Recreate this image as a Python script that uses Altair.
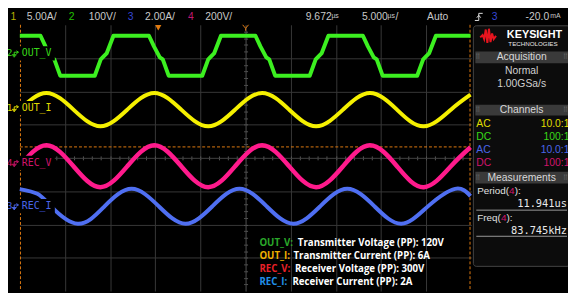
import altair as alt
import pandas as pd

# ---------------- values read from the screen ----------------
# time in microseconds (0 = screen centre), vertical position in screen divisions
out_v_t = [-25.0, -22.71, -22.16, -21.51, -21.18, -20.53, -16.70, -16.04, -15.72, -15.39, -14.63,
           -10.70, -10.15, -9.50, -9.17, -8.52, -4.80, -4.14, -3.82, -3.49, -2.73,
           1.09, 1.64, 2.29, 2.62, 3.27, 7.10, 7.76, 8.08, 8.41, 9.17,
           12.99, 13.54, 14.19, 14.52, 15.17, 19.00, 19.66, 19.98, 20.31, 21.07, 24.9]
out_v_div = [3.67, 3.67, 3.35, 3.02, 2.96, 2.47, 2.47, 2.96, 3.05, 3.14, 3.67,
             3.67, 3.35, 3.02, 2.96, 2.47, 2.47, 2.96, 3.05, 3.14, 3.67,
             3.67, 3.35, 3.02, 2.96, 2.47, 2.47, 2.96, 3.05, 3.14, 3.67,
             3.67, 3.35, 3.02, 2.96, 2.47, 2.47, 2.96, 3.05, 3.14, 3.67, 3.67]

sine_t = [-25.0, -22.05, -19.06, -16.08, -13.10, -10.11, -7.13, -4.14, -1.16,
          1.83, 4.82, 7.80, 10.79, 13.77, 16.76, 19.74, 22.73, 24.9]
out_i_div = [1.46, 1.95, 1.45, 0.95, 1.45, 1.95, 1.45, 0.95, 1.45,
             1.95, 1.45, 0.95, 1.45, 1.95, 1.45, 0.95, 1.45, 1.90]
rec_v_div = [-0.24, 0.38, -0.25, -0.88, -0.25, 0.38, -0.25, -0.88, -0.25,
             0.38, -0.25, -0.88, -0.25, 0.38, -0.25, -0.88, -0.25, 0.32]

rec_i_t = [-25.0, -23.06, -21.57, -18.59, -15.60, -12.62, -9.63, -6.65, -3.66, -0.68,
           2.31, 5.29, 8.28, 11.26, 14.25, 17.23, 20.22, 23.20, 24.9]
rec_i_div = [-0.94, -1.08, -1.45, -1.98, -1.45, -0.93, -1.45, -1.98, -1.45, -0.93,
             -1.45, -1.98, -1.45, -0.93, -1.45, -1.98, -1.45, -0.93, -1.15]

channel_names = ["OUT_I", "OUT_V", "REC_I", "REC_V"]
channel_nums = ["1", "2", "3", "4"]
channel_offsets = [1.50, 3.14, -1.45, -0.15]      # ground markers (div)
channel_scales = ["5.00A/", "100V/", "2.00A/", "200V/"]
channel_coupling = ["AC", "DC", "AC", "DC"]
channel_probe = ["10.0:1", "100:1", "10.0:1", "100:1"]
trigger_time = [-9.672]
trigger_level = [0.33]
cursor_t = [-24.93, 24.85]

legend_keys = ["OUT_V:", "OUT_I:", "REC_V:", "REC_I:"]
legend_desc = ["Transmitter Voltage (PP): 120V", "Transmitter Current (PP): 6A",
               "Receiver Voltage (PP): 300V", "Receiver Current (PP): 2A"]

# ---------------- styles ----------------
C_TRACE = {"OUT_I": "#f5f000", "OUT_V": "#3cf020", "REC_I": "#4f6ff2", "REC_V": "#ff1a8c"}
C_LABEL = {"OUT_I": "#e0dc00", "OUT_V": "#38d818", "REC_I": "#4a66e8", "REC_V": "#d0146c"}
C_NUM = {"1": "#b4b000", "2": "#20c000", "3": "#3446d6", "4": "#c01870"}
LEG_COL = ["#2aa82a", "#f0b000", "#e82028", "#2090e8"]
ORANGE = "#e07a10"
GRID = "#383838"
TXT = "#c8c8c8"

xs = alt.Scale(domain=[-25, 25], nice=False, zero=False)
ys = alt.Scale(domain=[-4, 4], nice=False, zero=False)

one = pd.DataFrame({"k": [0]})


def text(s, x, y, color=TXT, size=10.5, font="Liberation Sans", align="left", weight="normal"):
    return alt.Chart(one).mark_text(text=s, color=color, fontSize=size, font=font, align=align,
                                    baseline="middle", fontWeight=weight).encode(
        x=alt.value(x), y=alt.value(y))


def rect(x1, x2, y1, y2, fill, stroke=None, r=0):
    kw = dict(fill=fill, cornerRadius=r)
    if stroke:
        kw["stroke"] = stroke
        kw["strokeWidth"] = 1
    return alt.Chart(one).mark_rect(**kw).encode(
        x=alt.value(x1), x2=alt.value(x2), y=alt.value(y1), y2=alt.value(y2))


def hrule(x1, x2, y, color, w=1):
    return alt.Chart(one).mark_rule(color=color, strokeWidth=w).encode(
        x=alt.value(x1), x2=alt.value(x2), y=alt.value(y))


noax = None
grid_x = alt.Axis(orient="bottom", values=[-20, -15, -10, -5, 0, 5, 10, 15, 20], grid=True,
                  gridColor=GRID, labels=False, ticks=False, domain=False, title=None)
grid_y = alt.Axis(orient="left", values=[-3, -2, -1, 0, 1, 2, 3], grid=True,
                  gridColor=GRID, labels=False, ticks=False, domain=False, title=None)
minor_x = list(range(-24, 25))
minor_y = [v / 5 for v in range(-19, 20)]
cx_b = alt.Axis(orient="bottom", offset=-135, values=minor_x, grid=False, labels=False,
                ticks=True, tickSize=2, tickColor="#555555", domain=True, domainColor=GRID, title=None)
cx_t = alt.Axis(orient="top", offset=-135, values=minor_x, grid=False, labels=False,
                ticks=True, tickSize=2, tickColor="#555555", domain=False, title=None)
cy_l = alt.Axis(orient="left", offset=-229, values=minor_y, grid=False, labels=False,
                ticks=True, tickSize=2, tickColor="#555555", domain=True, domainColor=GRID, title=None)
cy_r = alt.Axis(orient="right", offset=-229, values=minor_y, grid=False, labels=False,
                ticks=True, tickSize=2, tickColor="#555555", domain=False, title=None)


def trace(t, v, name, xa, ya, interp, w):
    df = pd.DataFrame({"t": t, "v": v})
    return alt.Chart(df).mark_line(color=C_TRACE[name], strokeWidth=w, interpolate=interp,
                                   strokeJoin="round").encode(
        x=alt.X("t:Q", scale=xs, axis=xa), y=alt.Y("v:Q", scale=ys, axis=ya))


layers = []
# orange cursors / trigger level
cur = pd.DataFrame({"t": cursor_t})
layers.append(alt.Chart(cur).mark_rule(color=ORANGE, strokeDash=[3, 2], strokeWidth=1).encode(
    x=alt.X("t:Q", scale=xs, axis=noax), y=alt.value(0), y2=alt.value(270)))
lvl = pd.DataFrame({"v": trigger_level})
layers.append(alt.Chart(lvl).mark_rule(color=ORANGE, strokeDash=[3, 2], strokeWidth=1).encode(
    y=alt.Y("v:Q", scale=ys, axis=noax), x=alt.value(0), x2=alt.value(457)))

layers.append(trace(out_v_t, out_v_div, "OUT_V", grid_x, grid_y, "linear", 4))
layers.append(trace(sine_t, out_i_div, "OUT_I", cx_b, cy_l, "natural", 4))
layers.append(trace(sine_t, rec_v_div, "REC_V", cx_t, cy_r, "natural", 4.5))
layers.append(trace(rec_i_t, rec_i_div, "REC_I", noax, noax, "natural", 4))

# channel ground labels
lab = pd.DataFrame({"name": channel_names, "num": channel_nums, "off": channel_offsets})
layers.append(alt.Chart(lab).mark_point(shape="M-1,-0.3L1,-0.3L1,0.3L-1,0.3Z", size=2304,
                                        filled=True, fill="black", opacity=1, strokeWidth=0).encode(
    x=alt.value(11.5), y=alt.Y("off:Q", scale=ys, axis=noax)))
ground = ("M-0.3,-0.3L0.6,-0.3M0.25,-0.65L0.8,-0.3L0.25,0.05M-0.3,-0.3L-0.3,0.35"
          "M-0.9,0.35L0.3,0.35M-0.7,0.6L0.1,0.6M-0.5,0.85L-0.1,0.85")
for name, num in zip(channel_names, channel_nums):
    sub = lab[lab.name == name]
    col = C_LABEL[name]
    layers.append(alt.Chart(sub).mark_text(color=col, fontSize=10, font="DejaVu Sans Mono",
                                           align="left", baseline="middle").encode(
        x=alt.value(2), y=alt.Y("off:Q", scale=ys, axis=noax), text="name:N"))
    layers.append(alt.Chart(sub).mark_text(color=col, fontSize=9.5, font="DejaVu Sans Mono",
                                           align="center", baseline="middle").encode(
        x=alt.value(-10.5), y=alt.Y("off:Q", scale=ys, axis=noax), text="num:N"))
    layers.append(alt.Chart(sub).mark_point(shape=ground, size=64, color=col, strokeWidth=1,
                                            filled=False, opacity=1).encode(
        x=alt.value(-4.5), y=alt.Y("off:Q", scale=ys, axis=noax)))

# trigger markers on top edge
trg = pd.DataFrame({"t": trigger_time})
layers.append(alt.Chart(trg).mark_point(shape="triangle-down", size=40, filled=True, fill=ORANGE,
                                        opacity=1).encode(
    x=alt.X("t:Q", scale=xs, axis=noax), y=alt.value(3)))
layers.append(alt.Chart(pd.DataFrame({"t": [0]})).mark_point(
    shape="M-1,-1L0,0.2L1,-1M0,0.2L0,1", size=36, filled=False, color=ORANGE, strokeWidth=1,
    opacity=1).encode(x=alt.X("t:Q", scale=xs, axis=noax), y=alt.value(3)))

# header bar
hx_num = [-6.5, 52.5, 112.5, 173.5]
hx_val = [7, 70, 127, 188]
for i in range(4):
    layers.append(text(channel_nums[i], hx_num[i], -8, color=C_NUM[channel_nums[i]], align="center"))
    layers.append(text(channel_scales[i], hx_val[i], -8))
layers.append(text("9.672", 290, -8))
layers.append(text("µs", 316, -9, size=7))
layers.append(text("5.000", 347, -8))
layers.append(text("µs", 373, -9, size=7))
layers.append(text("/", 381, -8))
layers.append(text("Auto", 413, -8))
layers.append(alt.Chart(one).mark_point(
    shape="M-1,0.9L0,0.9L0,-0.9L1,-0.9M-0.5,0.2L0,-0.4L0.5,0.2", size=64, filled=False,
    color="#e0e0e0", strokeWidth=1, opacity=1).encode(x=alt.value(465.5), y=alt.value(-8)))
layers.append(text("3", 481.5, -8, color=C_NUM["3"], align="center"))
layers.append(text("-20.0", 513, -8))
layers.append(text("mA", 538, -9, size=7))

# legend block
leg_y = [221.5, 234.5, 247.5, 260.5]
leg_dx = [282, 277.5, 279, 276.5]
for i in range(4):
    layers.append(text(legend_keys[i], 243, leg_y[i], color=LEG_COL[i], size=9.8, font="Open Sans",
                       weight="bold"))
    layers.append(text(legend_desc[i], leg_dx[i], leg_y[i], color="#ffffff", size=9.8,
                       font="Open Sans", weight="bold"))

# right panel
layers.append(rect(460, 558, 1, 245, "#0c0c0c", "#454545", 3))
layers.append(alt.Chart(one).mark_point(
    shape="M-1,0.1L-0.7,-0.2L-0.5,0.3L-0.3,-0.9L-0.1,0.8L0.1,-1L0.3,0.7L0.5,-0.4L0.7,0.3L1,-0.1",
    size=256, filled=False, color="#e8141e", strokeWidth=2, opacity=1).encode(
    x=alt.value(475), y=alt.value(12)))
layers.append(text("KEYSIGHT", 494, 10, color="#ffffff", size=11, weight="bold"))
layers.append(text("TECHNOLOGIES", 495.5, 19.5, color="#e8e8e8", size=6.3))
for (y1, y2, title) in [(27, 39, "Acquisition"), (81, 92, "Channels"), (149, 161, "Measurements")]:
    layers.append(rect(462, 556, y1, y2, "#3a3a3a"))
    layers.append(text(title, 509, (y1 + y2) / 2, color="#d8d8d8", align="center"))
    layers.append(text("⠿", 464.5, (y1 + y2) / 2, color="#6a6a6a", size=7, font="DejaVu Sans",
                       align="center"))
    layers.append(text("⠿", 553.5, (y1 + y2) / 2, color="#6a6a6a", size=7, font="DejaVu Sans",
                       align="center"))
layers.append(text("Normal", 509, 47, color="#d0d0d0", align="center"))
layers.append(text("1.00GSa/s", 509, 60, color="#d0d0d0", align="center"))
row_y = [101, 114, 127, 140]
for i in range(4):
    col = C_LABEL[channel_names[i]]
    layers.append(text(channel_coupling[i], 463, row_y[i], color=col))
    layers.append(text(channel_probe[i], 557.5, row_y[i], color=col, align="right"))
layers.append(text("Period(", 464, 169, color="#e0e0e0", size=10))
layers.append(text("4", 499, 169, color="#d0146c", align="center", size=10))
layers.append(text("):", 502, 169, color="#e0e0e0", size=10))
layers.append(text("11.941us", 555, 182, color="#e8e8e8", font="DejaVu Sans Mono", size=10.5,
                   align="right"))
layers.append(hrule(463, 555, 188, "#9a9a9a"))
layers.append(text("Freq(", 464, 196, color="#e0e0e0", size=10))
layers.append(text("4", 490.8, 196, color="#d0146c", align="center", size=10))
layers.append(text("):", 493.6, 196, color="#e0e0e0", size=10))
layers.append(text("83.745kHz", 555, 209, color="#e8e8e8", font="DejaVu Sans Mono", size=10.5,
                   align="right"))
layers.append(hrule(463, 555, 214.5, "#9a9a9a"))

chart = alt.layer(*layers).resolve_axis(x="independent", y="independent").properties(
    width=458, height=270,
    autosize=alt.AutoSizeParams(type="none"),
    padding={"left": 12, "top": 15, "right": 98, "bottom": 0},
    background="#000000",
).configure_view(stroke=None)

chart.save("out.html", embed_options={"renderer": "svg", "actions": False})
